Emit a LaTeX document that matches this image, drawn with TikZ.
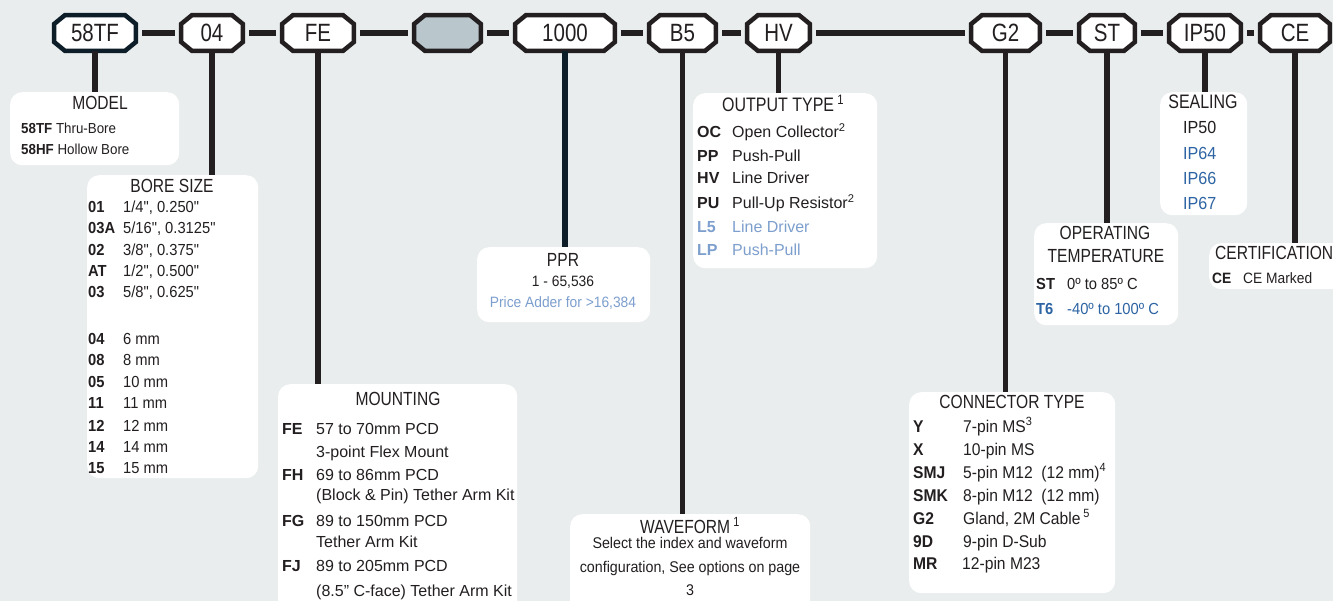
\documentclass[tikz,border=0pt]{standalone}
\usepackage{fontspec}
\setmainfont{Liberation Sans}
\newfontfamily\cond{Liberation Sans}[FakeStretch=0.82]
\newfontfamily\semi{Liberation Sans}[FakeStretch=0.92]
\usetikzlibrary{calc}
\definecolor{ink}{HTML}{231F20}
\definecolor{navy}{HTML}{0D1E29}
\definecolor{pagebg}{HTML}{E9EDEE}
\definecolor{octgray}{HTML}{B9C7CC}
\definecolor{lb}{HTML}{7D9FCE}
\definecolor{db}{HTML}{2D64A3}
\pgfdeclarelayer{bglayer}
\pgfdeclarelayer{octlayer}
\pgfsetlayers{bglayer,octlayer,main}
\newcommand\fs[1]{\fontsize{#1}{#1}\selectfont}
\newcommand\qq{\symbol{34}}
\newcommand\octa[3]{% fill, draw colour, node
  \begin{pgfonlayer}{octlayer}
  \draw[octline, fill=#1, draw=#2]
    ([xshift=11pt]#3.north west) -- ([xshift=-11pt]#3.north east) --
    ([yshift=-9pt]#3.north east) -- ([yshift=9pt]#3.south east) --
    ([xshift=-11pt]#3.south east) -- ([xshift=11pt]#3.south west) --
    ([yshift=9pt]#3.south west) -- ([yshift=-9pt]#3.north west) -- cycle;
  \end{pgfonlayer}}
\newcommand\rowx[7]{%
  \node[tl,#1] (#2c) at (#3,#5) {\bfseries #6};
  \node[tl,#1] (#2v) at (#4,#5) {#7};}
\begin{document}
\begin{tikzpicture}[x=1pt,y=-1pt,
  octn/.style={rectangle, inner sep=0pt, minimum height=35.5pt, text=ink, font=\cond\fs{25}},
  octline/.style={line width=4.5pt, line join=miter},
  bar/.style={line width=5.5pt, draw=ink, shorten >=6.5pt, shorten <=6.5pt},
  stem/.style={line width=5.5pt, draw=ink},
  box/.style={fill=white, rounded corners=12pt, inner sep=0pt, anchor=north west},
  tl/.style={anchor=base west, inner sep=0pt, text=ink},
  tc/.style={anchor=base, inner sep=0pt, text=ink},
  ]
\useasboundingbox (0,0) rectangle (1333,601);
\begin{pgfonlayer}{bglayer}
\fill[pagebg] (0,0) rectangle (1333,601);
\end{pgfonlayer}
\clip (0,0) rectangle (1333,601);

% top row of octagons
\node[octn, minimum width=81.5pt] (o1) at (95,33) {58TF};
\node[octn, minimum width=61.5pt] (o2) at (212,33) {04};
\node[octn, minimum width=71.5pt] (o3) at (318,33) {FE};
\node[octn, minimum width=66.5pt] (o4) at (447.5,33) {};
\node[octn, minimum width=99.5pt] (o5) at (565,33) {1000};
\node[octn, minimum width=66.5pt] (o6) at (682.5,33) {B5};
\node[octn, minimum width=62.5pt] (o7) at (778.5,33) {HV};
\node[octn, minimum width=68.5pt] (o8) at (1005.5,33) {G2};
\node[octn, minimum width=55.5pt] (o9) at (1107,33) {ST};
\node[octn, minimum width=71.5pt] (o10) at (1205,33) {IP50};
\node[octn, minimum width=69.5pt] (o11) at (1295,33) {CE};
\octa{white}{navy}{o1}
\octa{white}{ink}{o2}
\octa{white}{ink}{o3}
\octa{octgray}{ink}{o4}
\octa{white}{ink}{o5}
\octa{white}{ink}{o6}
\octa{white}{ink}{o7}
\octa{white}{ink}{o8}
\octa{white}{ink}{o9}
\octa{white}{ink}{o10}
\octa{white}{ink}{o11}
\foreach \a/\b in {o1/o2,o2/o3,o3/o4,o4/o5,o5/o6,o6/o7,o7/o8,o8/o9,o9/o10,o10/o11}
  \draw[bar] (\a) -- (\b);

% boxes
\node[box, minimum width=169pt, minimum height=73pt] (modelbox) at (10,92) {};
\node[box, minimum width=171pt, minimum height=303pt] (borebox) at (87,175) {};
\node[box, minimum width=173pt, minimum height=75pt] (pprbox) at (477,247) {};
\node[box, minimum width=184pt, minimum height=175pt] (outbox) at (693,93) {};
\node[box, minimum width=87pt, minimum height=123pt] (sealbox) at (1160,92) {};
\node[box, minimum width=144pt, minimum height=102pt] (tempbox) at (1034,223) {};
\node[box, minimum width=140pt, minimum height=46pt] (certbox) at (1209,243) {};
\node[box, minimum width=239pt, minimum height=230pt] (mountbox) at (278,384) {};
\node[box, minimum width=240pt, minimum height=100pt] (wavebox) at (570,514) {};
\node[box, minimum width=206pt, minimum height=201pt] (connbox) at (909,392) {};

% stems
\draw[stem] (o1.south) -- (o1.south |- modelbox.north);
\draw[stem] (o2.south) -- (o2.south |- borebox.north);
\draw[stem] (o3.south) -- (o3.south |- mountbox.north);
\draw[stem, draw=navy] (o5.south) -- (o5.south |- pprbox.north);
\draw[stem] (o6.south) -- (o6.south |- wavebox.north);
\draw[stem] (o7.south) -- (o7.south |- outbox.north);
\draw[stem] (o8.south) -- (o8.south |- connbox.north);
\draw[stem] (o9.south) -- (o9.south |- tempbox.north);
\draw[stem] (o10.south) -- (o10.south |- sealbox.north);
\draw[stem] (o11.south) -- (o11.south |- certbox.north);

% MODEL
\node[tc, font=\cond\fs{19}] (modelT) at (100,110) {MODEL};
\node[tl, font=\semi\fs{14.5}] (model1) at (21,134) {\textbf{58TF} Thru-Bore};
\node[tl, font=\semi\fs{14.5}] (model2) at (21,155) {\textbf{58HF} Hollow Bore};

% BORE SIZE
\node[tc, font=\cond\fs{19}] (boreT) at (172,193) {BORE SIZE};
\rowx{font=\semi\fs{16}}{b1}{88}{123}{213}{01}{1/4\qq, 0.250\qq}
\rowx{font=\semi\fs{16}}{b2}{88}{123}{234}{03A}{5/16\qq, 0.3125\qq}
\rowx{font=\semi\fs{16}}{b3}{88}{123}{256}{02}{3/8\qq, 0.375\qq}
\rowx{font=\semi\fs{16}}{b4}{88}{123}{277}{AT}{1/2\qq, 0.500\qq}
\rowx{font=\semi\fs{16}}{b5}{88}{123}{298}{03}{5/8\qq, 0.625\qq}
\rowx{font=\semi\fs{16}}{b6}{88}{123}{345}{04}{6 mm}
\rowx{font=\semi\fs{16}}{b7}{88}{123}{366}{08}{8 mm}
\rowx{font=\semi\fs{16}}{b8}{88}{123}{388}{05}{10 mm}
\rowx{font=\semi\fs{16}}{b9}{88}{123}{409}{11}{11 mm}
\rowx{font=\semi\fs{16}}{b10}{88}{123}{431}{12}{12 mm}
\rowx{font=\semi\fs{16}}{b11}{88}{123}{452}{14}{14 mm}
\rowx{font=\semi\fs{16}}{b12}{88}{123}{473}{15}{15 mm}

% PPR
\node[tc, font=\cond\fs{19}] (pprT) at (563,267) {PPR};
\node[tc, font=\semi\fs{15}] (ppr1) at (563,287) {1 - 65,536};
\node[tc, font=\semi\fs{15}, text=lb] (ppr2) at (563,308) {Price Adder for >16,384};

% OUTPUT TYPE
\node[tl, font=\cond\fs{19.5}] (outT) at (722,112) {OUTPUT TYPE\,\textsuperscript{1}};
\rowx{font=\fs{16}}{q1}{697}{732}{138}{OC}{Open Collector\textsuperscript{2}}
\rowx{font=\fs{16}}{q2}{697}{732}{162}{PP}{Push-Pull}
\rowx{font=\fs{16}}{q3}{697}{732}{184}{HV}{Line Driver}
\rowx{font=\fs{16}}{q4}{697}{732}{209}{PU}{Pull-Up Resistor\textsuperscript{2}}
\rowx{font=\fs{16}, text=lb}{q5}{697}{732}{233}{L5}{Line Driver}
\rowx{font=\fs{16}, text=lb}{q6}{697}{732}{256}{LP}{Push-Pull}

% SEALING
\node[tc, font=\cond\fs{19.5}] (sealT) at (1203,109) {SEALING};
\node[tl, font=\semi\fs{17.5}] (s1) at (1183,134) {IP50};
\node[tl, font=\semi\fs{17.5}, text=db] (s2) at (1183,160) {IP64};
\node[tl, font=\semi\fs{17.5}, text=db] (s3) at (1183,185) {IP66};
\node[tl, font=\semi\fs{17.5}, text=db] (s4) at (1183,210) {IP67};

% OPERATING TEMPERATURE
\node[tc, font=\cond\fs{19}] (tempT1) at (1105,240) {OPERATING};
\node[tc, font=\cond\fs{19}] (tempT2) at (1106,263) {TEMPERATURE};
\rowx{font=\semi\fs{16}}{t1}{1036}{1067}{290}{ST}{0º to 85º C}
\rowx{font=\semi\fs{16}, text=db}{t2}{1036}{1067}{315}{T6}{-40º to 100º C}

% CERTIFICATION
\node[tl, font=\cond\fs{19}] (certT) at (1215,260) {CERTIFICATION};
\rowx{font=\semi\fs{15}}{c1}{1212}{1243}{284}{CE}{CE Marked}

% MOUNTING
\node[tc, font=\cond\fs{19}] (mountT) at (398,405) {MOUNTING};
\rowx{font=\fs{16}}{m1}{282}{316}{434}{FE}{57 to 70mm PCD}
\node[tl, font=\fs{16}] (m1b) at (316,457) {3-point Flex Mount};
\rowx{font=\fs{16}}{m2}{282}{316}{480}{FH}{69 to 86mm PCD}
\node[tl, font=\fs{16}] (m2b) at (316,500) {(Block \& Pin) Tether Arm Kit};
\rowx{font=\fs{16}}{m3}{282}{316}{526}{FG}{89 to 150mm PCD}
\node[tl, font=\fs{16}] (m3b) at (316,547) {Tether Arm Kit};
\rowx{font=\fs{16}}{m4}{282}{316}{571}{FJ}{89 to 205mm PCD}
\node[tl, font=\fs{16}] (m4b) at (316,596) {(8.5\qq\ C-face) Tether Arm Kit};

% WAVEFORM
\node[tc, font=\cond\fs{19}] (waveT) at (690,533) {WAVEFORM\,\textsuperscript{1}};
\node[tc, font=\semi\fs{15.5}] (w1) at (690,548) {Select the index and waveform};
\node[tc, font=\semi\fs{15.5}] (w2) at (690,572) {configuration, See options on page};
\node[tc, font=\semi\fs{15.5}] (w3) at (690,595) {3};

% CONNECTOR TYPE
\node[tc, font=\cond\fs{19}] (connT) at (1012,409) {CONNECTOR TYPE};
\rowx{font=\semi\fs{17}}{k1}{913}{963}{432}{Y}{7-pin MS\textsuperscript{3}}
\rowx{font=\semi\fs{17}}{k2}{913}{963}{455}{X}{10-pin MS}
\rowx{font=\semi\fs{17}}{k3}{913}{963}{478}{SMJ}{5-pin M12\ \ (12 mm)\textsuperscript{4}}
\rowx{font=\semi\fs{17}}{k4}{913}{963}{501}{SMK}{8-pin M12\ \ (12 mm)}
\rowx{font=\semi\fs{17}}{k5}{913}{963}{524}{G2}{Gland, 2M Cable\,\textsuperscript{5}}
\rowx{font=\semi\fs{17}}{k6}{913}{963}{547}{9D}{9-pin D-Sub}
\rowx{font=\semi\fs{17}}{k7}{913}{962}{569}{MR}{12-pin M23}
\end{tikzpicture}
\end{document}
